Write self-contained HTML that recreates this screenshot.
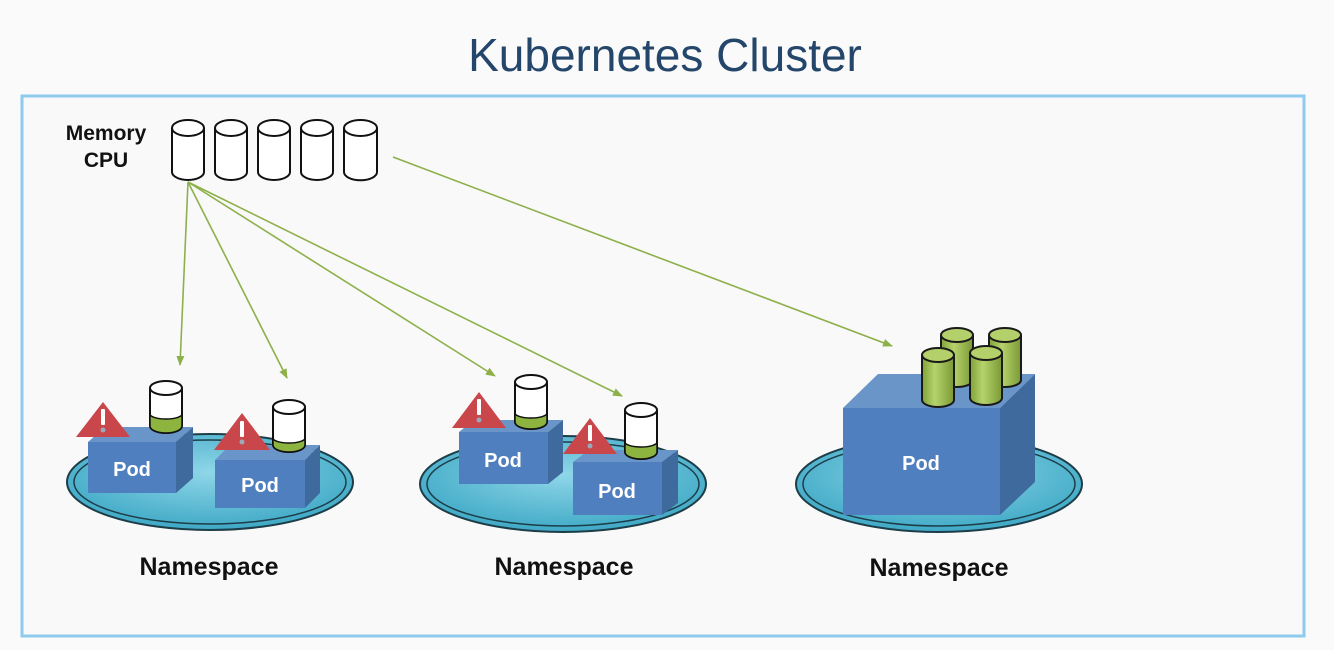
<!DOCTYPE html>
<html><head><meta charset="utf-8"><style>
html,body{margin:0;padding:0;background:#fafafa;}
svg{display:block;}
text{font-family:"Liberation Sans","DejaVu Sans",sans-serif;}
</style></head><body>
<svg width="1334" height="650" viewBox="0 0 1334 650" xmlns="http://www.w3.org/2000/svg">
<defs>
<marker id="ah" markerWidth="10" markerHeight="10" refX="9" refY="5" orient="auto" markerUnits="userSpaceOnUse"><path d="M0,1 L10,5 L0,9 z" fill="#8db04a"/></marker>
<radialGradient id="ns" cx="50%" cy="40%" r="60%"><stop offset="0" stop-color="#8fd6e8"/><stop offset="1" stop-color="#3fa9c6"/></radialGradient>
<linearGradient id="gc" x1="0" x2="1"><stop offset="0" stop-color="#7fa238"/><stop offset="0.4" stop-color="#b6d26c"/><stop offset="1" stop-color="#7a9a35"/></linearGradient>
</defs>
<rect width="1334" height="650" fill="#fafafa"/>
<text x="665" y="71" font-size="46" fill="#23466a" text-anchor="middle">Kubernetes Cluster</text>
<rect x="22" y="96" width="1282" height="540" fill="#f9f9f9" stroke="#8ecbef" stroke-width="3"/>
<text x="106" y="140" font-size="21" font-weight="bold" text-anchor="middle" fill="#111">Memory</text>
<text x="106" y="167" font-size="21" font-weight="bold" text-anchor="middle" fill="#111">CPU</text>
<g fill="#fff" stroke="#111" stroke-width="2">
<path d="M172,128 v44 a16,8 0 0 0 32,0 v-44"/><ellipse cx="188" cy="128" rx="16" ry="8"/>
<path d="M215,128 v44 a16,8 0 0 0 32,0 v-44"/><ellipse cx="231" cy="128" rx="16" ry="8"/>
<path d="M258,128 v44 a16,8 0 0 0 32,0 v-44"/><ellipse cx="274" cy="128" rx="16" ry="8"/>
<path d="M301,128 v44 a16,8 0 0 0 32,0 v-44"/><ellipse cx="317" cy="128" rx="16" ry="8"/>
<path d="M344,128 v44 a16,8 0 0 0 33,0 v-44"/><ellipse cx="360.5" cy="128" rx="16.5" ry="8"/>
</g>
<g stroke="#8db04a" stroke-width="1.6" marker-end="url(#ah)">
<line x1="188" y1="182" x2="180" y2="365"/>
<line x1="188" y1="182" x2="287" y2="378"/>
<line x1="188" y1="182" x2="495" y2="376"/>
<line x1="188" y1="182" x2="622" y2="396"/>
<line x1="393" y1="157" x2="892" y2="346"/>
</g>
<!-- namespaces -->
<g stroke="#1d3d48" stroke-width="2">
<ellipse cx="210" cy="482" rx="143" ry="48" fill="url(#ns)"/>
<ellipse cx="210" cy="482" rx="136" ry="42" fill="none" stroke-width="1.5"/>
<ellipse cx="563" cy="484" rx="143" ry="48" fill="url(#ns)"/>
<ellipse cx="563" cy="484" rx="136" ry="42" fill="none" stroke-width="1.5"/>
<ellipse cx="939" cy="484" rx="143" ry="48" fill="url(#ns)"/>
<ellipse cx="939" cy="484" rx="136" ry="42" fill="none" stroke-width="1.5"/>
</g>
<!-- pods -->
<g>
<polygon points="88,442 105,427 193,427 176,442" fill="#6a95c9"/><polygon points="176,442 193,427 193,478 176,493" fill="#3e6a9e"/><rect x="88" y="442" width="88" height="51" fill="#4f7fbf"/>
<polygon points="215,460 230,445 320,445 305,460" fill="#6a95c9"/><polygon points="305,460 320,445 320,493 305,508" fill="#3e6a9e"/><rect x="215" y="460" width="90" height="48" fill="#4f7fbf"/>
<polygon points="459,432 474,420 563,420 548,432" fill="#6a95c9"/><polygon points="548,432 563,420 563,472 548,484" fill="#3e6a9e"/><rect x="459" y="432" width="89" height="52" fill="#4f7fbf"/>
<polygon points="573,462 589,450 678,450 662,462" fill="#6a95c9"/><polygon points="662,462 678,450 678,503 662,515" fill="#3e6a9e"/><rect x="573" y="462" width="89" height="53" fill="#4f7fbf"/>
<polygon points="843,408 878,374 1035,374 1000,408" fill="#6a95c9"/><polygon points="1000,408 1035,374 1035,482 1000,515" fill="#3e6a9e"/><rect x="843" y="408" width="157" height="107" fill="#4f7fbf"/>
</g>
<g fill="#fff" font-size="20" font-weight="bold" text-anchor="middle">
<text x="132" y="476">Pod</text><text x="260" y="492">Pod</text>
<text x="503" y="467">Pod</text><text x="617" y="498">Pod</text>
<text x="921" y="470">Pod</text>
</g>
<!-- cups -->
<g stroke="#111" stroke-width="2">
<path d="M150,388 v38 a16,7 0 0 0 32,0 v-38" fill="#fff"/>
<path d="M150,414 v12 a16,7 0 0 0 32,0 v-12 a16,5 0 0 1 -32,0z" fill="#8cb43e" stroke-width="1.5"/>
<ellipse cx="166" cy="388" rx="16" ry="7" fill="#fff"/>
<path d="M273,407 v38 a16,7 0 0 0 32,0 v-38" fill="#fff"/>
<path d="M273,438 v7 a16,7 0 0 0 32,0 v-7 a16,5 0 0 1 -32,0z" fill="#8cb43e" stroke-width="1.5"/>
<ellipse cx="289" cy="407" rx="16" ry="7" fill="#fff"/>
<path d="M515,382 v40 a16,7 0 0 0 32,0 v-40" fill="#fff"/>
<path d="M515,413 v9 a16,7 0 0 0 32,0 v-9 a16,5 0 0 1 -32,0z" fill="#8cb43e" stroke-width="1.5"/>
<ellipse cx="531" cy="382" rx="16" ry="7" fill="#fff"/>
<path d="M625,410 v42 a16,7 0 0 0 32,0 v-42" fill="#fff"/>
<path d="M625,442 v10 a16,7 0 0 0 32,0 v-10 a16,5 0 0 1 -32,0z" fill="#8cb43e" stroke-width="1.5"/>
<ellipse cx="641" cy="410" rx="16" ry="7" fill="#fff"/>
</g>
<!-- big pod cylinders -->
<g stroke="#1a1a1a" stroke-width="2" fill="url(#gc)">
<path d="M941,335 v45 a16,7 0 0 0 32,0 v-45"/><ellipse cx="957" cy="335" rx="16" ry="7" fill="#b4d06a"/>
<path d="M989,335 v45 a16,7 0 0 0 32,0 v-45"/><ellipse cx="1005" cy="335" rx="16" ry="7" fill="#b4d06a"/>
<path d="M922,355 v45 a16,7 0 0 0 32,0 v-45"/><ellipse cx="938" cy="355" rx="16" ry="7" fill="#b4d06a"/>
<path d="M970,353 v45 a16,7 0 0 0 32,0 v-45"/><ellipse cx="986" cy="353" rx="16" ry="7" fill="#b4d06a"/>
</g>
<!-- warnings -->
<g fill="#c9474a">
<polygon points="103,402 76,437 130,437"/>
<polygon points="242,413 214,450 270,450"/>
<polygon points="479,392 452,428 506,428"/>
<polygon points="590,418 563,454 617,454"/>
</g>
<g fill="#fff">
<rect x="101" y="409" width="4" height="16" rx="1"/><circle cx="103" cy="430" r="2.5" fill="#9ab"/>
<rect x="240" y="421" width="4" height="16" rx="1"/><circle cx="242" cy="442" r="2.5" fill="#9ab"/>
<rect x="477" y="399" width="4" height="16" rx="1"/><circle cx="479" cy="420" r="2.5" fill="#9ab"/>
<rect x="588" y="425" width="4" height="16" rx="1"/><circle cx="590" cy="446" r="2.5" fill="#9ab"/>
</g>
<g font-size="25" font-weight="bold" text-anchor="middle" fill="#111">
<text x="209" y="575">Namespace</text>
<text x="564" y="575">Namespace</text>
<text x="939" y="576">Namespace</text>
</g>
</svg>
</body></html>
